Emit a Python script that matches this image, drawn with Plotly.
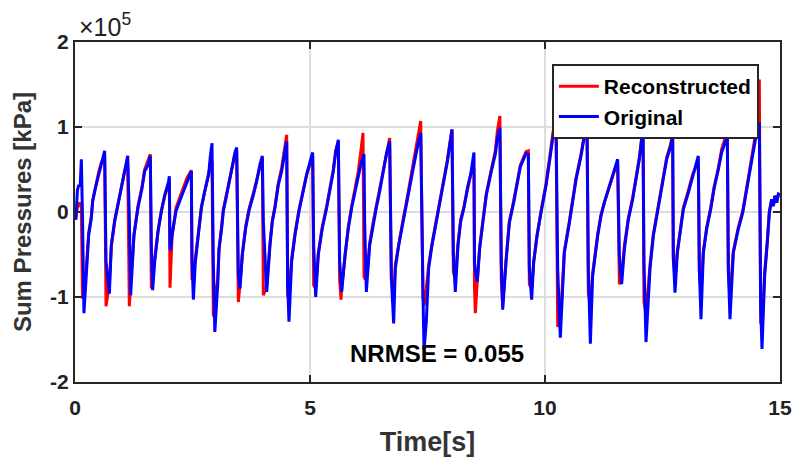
import plotly.graph_objects as go

# time [s], values in units of 1e5 kPa
time_s = [
    0.00, 0.02, 0.05, 0.08, 0.11, 0.135, 0.16, 0.19,
    0.234, 0.291, 0.348, 0.376, 0.433, 0.504, 0.56, 0.631, 0.66, 0.731,
    0.773, 0.844, 0.929, 1.0, 1.057, 1.121, 1.156, 1.184,
    1.255, 1.34, 1.426, 1.482, 1.553, 1.603, 1.624, 1.652,
    1.695, 1.766, 1.837, 1.908, 1.993, 2.007, 2.021, 2.035,
    2.064, 2.149, 2.277, 2.383, 2.475, 2.489, 2.518,
    2.56, 2.631, 2.688, 2.759, 2.844, 2.88, 2.915, 2.943, 2.975,
    3.036, 3.064, 3.121, 3.156, 3.227, 3.298, 3.348, 3.404, 3.44, 3.461, 3.475, 3.511,
    3.56, 3.631, 3.70, 3.794, 3.865, 3.936, 3.986, 4.007, 4.078,
    4.149, 4.199, 4.255, 4.326, 4.397, 4.454, 4.504, 4.525, 4.553,
    4.61, 4.681, 4.766, 4.837, 4.929, 5.0, 5.057, 5.078, 5.121,
    5.177, 5.262, 5.355, 5.426, 5.496, 5.546, 5.603, 5.631, 5.66, 5.674,
    5.745, 5.816, 5.887, 5.957, 6.028, 6.09, 6.128, 6.149, 6.163, 6.199,
    6.27, 6.34, 6.411, 6.482, 6.553, 6.624, 6.695, 6.731, 6.78,
    6.816, 6.887, 6.979, 7.05, 7.121, 7.213, 7.284, 7.355, 7.404, 7.426,
    7.475, 7.525, 7.596, 7.688, 7.78, 7.851, 7.922, 7.972, 8.021, 8.05, 8.092,
    8.149, 8.206, 8.277, 8.348, 8.418, 8.468, 8.489, 8.50, 8.518, 8.56,
    8.61, 8.681, 8.752, 8.858, 8.943, 8.986, 9.04, 9.07, 9.10,
    9.17, 9.241, 9.333, 9.404, 9.475, 9.596, 9.645, 9.667, 9.716,
    9.759, 9.83, 9.915, 10.021, 10.113, 10.199, 10.234, 10.27, 10.326,
    10.369, 10.411, 10.518, 10.589, 10.66, 10.766, 10.837, 10.894, 10.922, 10.965,
    11.014, 11.121, 11.191, 11.262, 11.369, 11.475, 11.546, 11.582, 11.631,
    11.688, 11.773, 11.865, 11.936, 12.007, 12.085, 12.106, 12.149,
    12.234, 12.305, 12.376, 12.447, 12.518, 12.589, 12.674, 12.716, 12.73, 12.766,
    12.816, 12.887, 12.943, 13.05, 13.142, 13.227, 13.262, 13.284, 13.319,
    13.369, 13.44, 13.525, 13.596, 13.688, 13.759, 13.879, 13.901, 13.936,
    14.007, 14.113, 14.206, 14.305, 14.397, 14.489, 14.56, 14.589, 14.617,
    14.674, 14.73, 14.773, 14.823, 14.858, 14.894, 14.929, 14.965, 15.0,
]

original = [
    -0.05, -0.09, 0.25, 0.32, 0.30, 0.62, -0.07, -1.19,
    -0.80, -0.27, -0.07, 0.13, 0.28, 0.44, 0.58, 0.72, -0.58, -0.96,
    -0.39, -0.11, 0.13, 0.32, 0.48, 0.66, -0.07, -0.98,
    -0.27, 0.05, 0.28, 0.48, 0.55, 0.66, -0.39, -0.92,
    -0.59, -0.23, 0.01, 0.20, 0.36, 0.42, -0.43, -0.45,
    -0.27, 0.01, 0.20, 0.36, 0.48, -0.54, -1.03,
    -0.59, -0.27, 0.05, 0.24, 0.44, 0.66, 0.81, -0.59, -1.41,
    -0.86, -0.43, -0.19, 0.01, 0.20, 0.40, 0.56, 0.70, 0.76, -0.62, -0.75, -0.90,
    -0.50, -0.19, 0.01, 0.20, 0.36, 0.56, 0.66, -0.11, -0.94,
    -0.39, -0.11, 0.05, 0.32, 0.48, 0.68, 0.83, -0.86, -1.29,
    -0.58, -0.27, 0.01, 0.20, 0.44, 0.59, 0.70, -0.39, -1.00,
    -0.50, -0.19, 0.05, 0.28, 0.48, 0.70, 0.85, -0.58, -0.80, -0.94,
    -0.50, -0.19, 0.05, 0.24, 0.44, 0.58, 0.64, 0.68, -0.11, -0.94,
    -0.39, -0.15, 0.05, 0.24, 0.44, 0.68, 0.83, -0.78, -1.31,
    -0.66, -0.39, -0.11, 0.09, 0.32, 0.56, 0.76, 0.93, -0.98, -1.62,
    -1.29, -0.66, -0.39, -0.11, 0.13, 0.36, 0.59, 0.78, 0.97, -0.50, -0.94,
    -0.39, -0.11, 0.05, 0.28, 0.44, 0.64, 0.70, -0.58, -0.70, -0.82,
    -0.43, -0.11, 0.20, 0.48, 0.68, 0.87, 0.99, -0.60, -1.15,
    -0.59, -0.13, 0.11, 0.34, 0.53, 0.69, 0.68, -0.67, -1.03,
    -0.59, -0.28, -0.01, 0.31, 0.66, 1.01, 1.08, -0.67, -1.48,
    -0.87, -0.48, -0.13, 0.11, 0.38, 0.66, 0.89, 1.01, -0.67, -1.55,
    -0.75, -0.28, -0.05, 0.11, 0.31, 0.50, 0.62, -0.52, -0.85,
    -0.44, -0.09, 0.15, 0.38, 0.62, 0.99, -0.60, -1.53,
    -0.67, -0.28, -0.05, 0.19, 0.42, 0.62, 0.77, 0.89, -0.52, -0.95,
    -0.48, -0.20, 0.03, 0.23, 0.42, 0.58, 0.66, -0.67, -1.26,
    -0.48, -0.20, 0.03, 0.27, 0.50, 0.70, 0.89, -0.67, -1.26,
    -0.48, -0.20, -0.01, 0.31, 0.58, 0.89, 1.05, -1.10, -1.61,
    -0.75, -0.36, -0.01, 0.15, 0.07, 0.19, 0.11, 0.21, 0.20,
]

reconstructed = [
    -0.05, -0.05, 0.05, 0.10, 0.10, 0.05, -1.02, -0.90,
    -0.70, -0.25, -0.05, 0.13, 0.30, 0.47, 0.58, 0.66, -1.11, -0.85,
    -0.40, -0.10, 0.13, 0.32, 0.48, 0.60, -1.11, -0.85,
    -0.27, 0.07, 0.30, 0.50, 0.60, 0.68, -0.90, -0.80,
    -0.55, -0.23, 0.01, 0.18, 0.34, 0.38, -0.89, -0.60,
    -0.30, 0.05, 0.25, 0.40, 0.49, -0.80, -0.75,
    -0.55, -0.25, 0.05, 0.24, 0.46, 0.55, 0.60, -1.23, -1.00,
    -0.80, -0.45, -0.19, 0.03, 0.22, 0.42, 0.56, 0.68, 0.72, -0.70, -1.06, -0.85,
    -0.50, -0.17, 0.03, 0.22, 0.38, 0.56, 0.64, -0.98, -0.88,
    -0.36, -0.10, 0.07, 0.34, 0.52, 0.72, 0.91, -1.00, -0.95,
    -0.55, -0.25, 0.03, 0.20, 0.44, 0.56, 0.66, -0.86, -0.90,
    -0.48, -0.17, 0.07, 0.30, 0.50, 0.72, 0.83, -0.80, -1.03, -0.90,
    -0.50, -0.17, 0.07, 0.26, 0.48, 0.75, 0.93, -0.76, -0.78, -0.80,
    -0.37, -0.13, 0.07, 0.26, 0.46, 0.70, 0.87, -0.80, -1.00,
    -0.62, -0.37, -0.09, 0.11, 0.34, 0.60, 0.82, 1.07, -1.00, -1.10,
    -0.90, -0.62, -0.37, -0.09, 0.15, 0.38, 0.61, 0.80, 0.97, -0.70, -0.80,
    -0.37, -0.09, 0.07, 0.28, 0.44, 0.55, 0.50, -0.90, -1.19, -0.80,
    -0.41, -0.09, 0.22, 0.50, 0.72, 0.95, 1.13, -0.80, -1.10,
    -0.57, -0.11, 0.13, 0.36, 0.55, 0.71, 0.72, -0.85, -0.90,
    -0.59, -0.28, 0.01, 0.33, 0.70, 1.05, 1.10, -1.35, -1.30,
    -0.85, -0.46, -0.11, 0.13, 0.40, 0.68, 0.91, 1.00, -0.95, -1.10,
    -0.72, -0.26, -0.03, 0.11, 0.30, 0.48, 0.58, -0.85, -0.75,
    -0.40, -0.07, 0.17, 0.40, 0.64, 1.00, -1.06, -1.20,
    -0.62, -0.26, -0.03, 0.21, 0.44, 0.64, 0.80, 0.93, -0.56, -0.75,
    -0.46, -0.18, 0.05, 0.25, 0.44, 0.55, 0.55, -0.70, -0.95,
    -0.46, -0.18, 0.05, 0.29, 0.52, 0.74, 0.95, -0.72, -1.00,
    -0.46, -0.18, 0.01, 0.33, 0.62, 0.95, 1.56, -1.30, -1.35,
    -0.70, -0.34, 0.01, 0.15, 0.07, 0.19, 0.11, 0.21, 0.20,
]

x_ticks = [0, 5, 10, 15]
y_ticks = [-2, -1, 0, 1, 2]
series_names = ["Reconstructed", "Original"]
series_colors = ["#ff0000", "#0000ff"]

FONT = "Liberation Sans, Arial, sans-serif"
AXC = "#262626"

fig = go.Figure()
fig.add_trace(go.Scatter(x=time_s, y=reconstructed, mode="lines", name=series_names[0],
                         line=dict(color=series_colors[0], width=3)))
fig.add_trace(go.Scatter(x=time_s, y=original, mode="lines", name=series_names[1],
                         line=dict(color=series_colors[1], width=3)))

axis_common = dict(showline=True, linecolor=AXC, linewidth=2, mirror="ticks",
                   ticks="inside", ticklen=7, tickwidth=2, tickcolor=AXC,
                   showgrid=True, gridcolor="#dcdcdc", gridwidth=1.5, zeroline=False,
                   automargin=False, ticklabeloverflow="allow",
                   tickfont=dict(family=FONT, size=21, color="#222222", weight="bold"))

fig.update_xaxes(range=[0, 15], tickvals=x_ticks, ticktext=[str(v) for v in x_ticks],
                 ticklabelstandoff=6,
                 title=dict(text="Time[s]", font=dict(family=FONT, size=27, color="#333333", weight="bold"),
                            standoff=24),
                 **axis_common)
fig.update_yaxes(range=[-2, 2], tickvals=y_ticks, ticktext=[str(v) for v in y_ticks],
                 title=dict(text="Sum Pressures [kPa]", font=dict(family=FONT, size=24, color="#333333", weight="bold"),
                            standoff=12),
                 **axis_common)

fig.add_annotation(x=0, y=1, xref="paper", yref="paper", xanchor="left", yanchor="bottom",
                   text="×10<sup>5</sup>", showarrow=False, xshift=2, yshift=-1,
                   font=dict(family=FONT, size=25, color="#222222"))
fig.add_annotation(x=7.7, y=-1.67, text="NRMSE = 0.055", showarrow=False,
                   font=dict(family=FONT, size=24, color="black", weight="bold"))

fig.update_layout(
    width=794, height=457,
    margin=dict(l=75, r=14, t=42, b=75),
    plot_bgcolor="white", paper_bgcolor="white",
    showlegend=True,
    legend=dict(x=0.970, y=0.935, xanchor="right", yanchor="top",
                bgcolor="white", bordercolor=AXC, borderwidth=2,
                font=dict(family=FONT, size=21, color="black", weight="bold"),
                itemwidth=40, tracegroupgap=0),
)

# remove the page's default 8px body margin so the figure fills the window exactly
fig.write_html("out.html", config={"displayModeBar": False},
               post_script="document.body.style.margin='0';document.body.style.overflow='hidden';")
